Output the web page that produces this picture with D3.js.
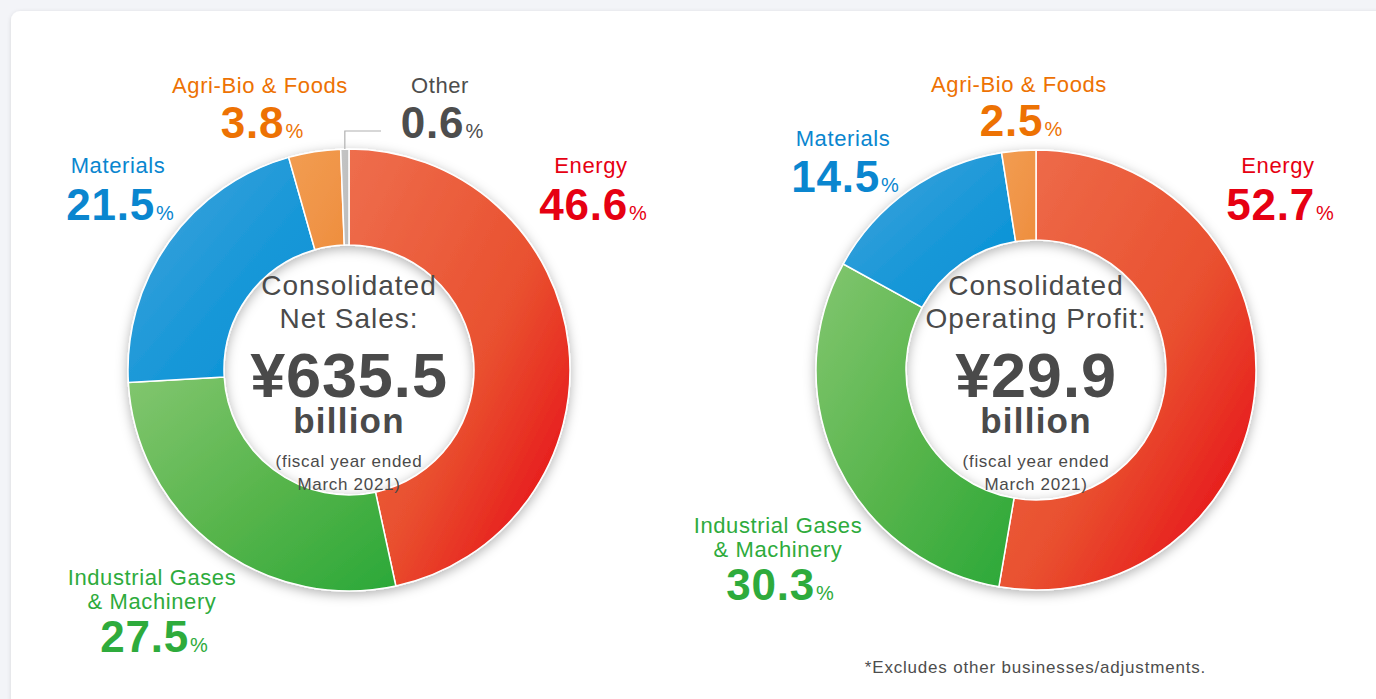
<!DOCTYPE html>
<html>
<head>
<meta charset="utf-8">
<script src="https://cdn.jsdelivr.net/npm/d3@7"></script>
<style>
  html, body { margin: 0; padding: 0; background: #f3f4f8; }
  svg { display: block; font-family: "Liberation Sans", Arial, Helvetica, sans-serif; }
</style>
</head>
<body>
<svg id="chart"></svg>
<script>
// data
var segments = ["Energy", "Industrial Gases & Machinery", "Materials", "Agri-Bio & Foods", "Other"];
var salesShare = [46.6, 27.5, 21.5, 3.8, 0.6];
var profitShare = [52.7, 30.3, 14.5, 2.5];
var salesTitle = ["Consolidated", "Net Sales:"];
var profitTitle = ["Consolidated", "Operating Profit:"];
var salesAmount = "¥635.5";
var profitAmount = "¥29.9";
var period = ["(fiscal year ended", "March 2021)"];
var footnote = "*Excludes other businesses/adjustments.";

// colours per segment: gradient light, mid, dark, text
var segLight = ["#ee6e4d", "#82c66f", "#45a4dc", "#f29d52", "#c4c4c4"];
var segMid = ["#e9502f", "#55b44a", "#1a98d8", "#f09548", "#c0c0c0"];
var segDark = ["#e60013", "#2aa838", "#0090d6", "#ee8e3e", "#bdbdbd"];
var segText = ["#e60012", "#2eab3c", "#0a86cf", "#ed7203", "#4d4d4d"];

var width = 1376, height = 699;
var svg = d3.select("#chart").attr("width", width).attr("height", height);
var defs = svg.append("defs");

var cardShadow = defs.append("filter").attr("id", "cardShadow")
  .attr("x", "-5%").attr("y", "-5%").attr("width", "110%").attr("height", "110%");
cardShadow.append("feDropShadow").attr("dx", 0).attr("dy", 1).attr("stdDeviation", 2)
  .attr("flood-color", "#000").attr("flood-opacity", 0.12);

var ringShadow = defs.append("filter").attr("id", "ringShadow")
  .attr("x", "-20%").attr("y", "-20%").attr("width", "140%").attr("height", "140%");
ringShadow.append("feDropShadow").attr("dx", 0).attr("dy", 3).attr("stdDeviation", 6)
  .attr("flood-color", "#000").attr("flood-opacity", 0.3);

segments.forEach(function (s, i) {
  var g = defs.append("linearGradient").attr("id", "grad" + i)
    .attr("x1", 0).attr("y1", 0).attr("x2", 1).attr("y2", 1);
  g.append("stop").attr("offset", "0%").attr("stop-color", segLight[i]);
  g.append("stop").attr("offset", "55%").attr("stop-color", segMid[i]);
  g.append("stop").attr("offset", "100%").attr("stop-color", segDark[i]);
});

// card
svg.append("rect")
  .attr("x", 11).attr("y", 11).attr("width", width + 20).attr("height", height + 20)
  .attr("rx", 9).attr("fill", "#fff").attr("filter", "url(#cardShadow)");

// layout of each donut and its labels (not data)
var charts = [
  {
    share: salesShare, title: salesTitle, amount: salesAmount,
    cx: 349, cy: 370, outer: 221, inner: 125,
    labels: [
      { x: 591, y: 173, lines: ["Energy"], num: 220 },
      { x: 152, y: 585, lines: ["Industrial Gases", "& Machinery"], num: 652 },
      { x: 118, y: 173, lines: ["Materials"], num: 220 },
      { x: 260, y: 93, lines: ["Agri-Bio & Foods"], num: 138 },
      { x: 440, y: 93, lines: ["Other"], num: 138 }
    ]
  },
  {
    share: profitShare, title: profitTitle, amount: profitAmount,
    cx: 1036, cy: 370, outer: 220, inner: 130,
    labels: [
      { x: 1278, y: 173, lines: ["Energy"], num: 220 },
      { x: 778, y: 533, lines: ["Industrial Gases", "& Machinery"], num: 600 },
      { x: 843, y: 146, lines: ["Materials"], num: 192 },
      { x: 1019, y: 92, lines: ["Agri-Bio & Foods"], num: 136 }
    ]
  }
];

var pie = d3.pie().sort(null).value(function (d) { return d; });

charts.forEach(function (c) {
  var arc = d3.arc().innerRadius(c.inner).outerRadius(c.outer);
  var g = svg.append("g").attr("transform", "translate(" + c.cx + "," + c.cy + ")");

  g.append("g").attr("filter", "url(#ringShadow)")
    .selectAll("path")
    .data(pie(c.share))
    .enter()
    .append("path")
    .attr("d", arc)
    .attr("fill", function (d, i) { return "url(#grad" + i + ")"; })
    .attr("stroke", "#fff")
    .attr("stroke-width", 1.5);

  // centre text
  var ct = g.append("g").attr("fill", "#4a4a4a").attr("text-anchor", "middle");
  ct.selectAll("text.title")
    .data(c.title)
    .enter()
    .append("text")
    .attr("class", "title")
    .attr("y", function (d, i) { return -75 + i * 33; })
    .attr("font-size", 28)
    .attr("letter-spacing", 1)
    .text(function (d) { return d; });
  ct.append("text").attr("y", 27).attr("font-size", 63).attr("font-weight", "bold")
    .attr("letter-spacing", 0.8)
    .text(c.amount);
  ct.append("text").attr("y", 63).attr("font-size", 35).attr("font-weight", "bold")
    .attr("letter-spacing", 1.2)
    .text("billion");
  ct.selectAll("text.period")
    .data(period)
    .enter()
    .append("text")
    .attr("class", "period")
    .attr("y", function (d, i) { return 97 + i * 23; })
    .attr("font-size", 17)
    .attr("letter-spacing", 0.7)
    .text(function (d) { return d; });

  // segment labels
  c.labels.forEach(function (l, i) {
    var col = segText[i];
    l.lines.forEach(function (t, k) {
      svg.append("text")
        .attr("x", l.x).attr("y", l.y + k * 24)
        .attr("text-anchor", "middle")
        .attr("font-size", 22)
        .attr("letter-spacing", 0.6)
        .attr("fill", col)
        .text(t);
    });
    var num = svg.append("text")
      .attr("x", l.x + 2).attr("y", l.num)
      .attr("text-anchor", "middle")
      .attr("fill", col);
    num.append("tspan").attr("font-size", 44).attr("font-weight", "bold")
      .attr("letter-spacing", 0.8)
      .text(d3.format(".1f")(c.share[i]));
    num.append("tspan").attr("font-size", 20).attr("dx", 1).text("%");
  });
});

// leader line for "Other"
var sales = charts[0];
var otherArc = pie(salesShare)[4];
var midA = (otherArc.startAngle + otherArc.endAngle) / 2;
var lx = sales.cx + Math.sin(midA) * sales.outer;
svg.append("polyline")
  .attr("points", [[lx, sales.cy - sales.outer], [lx, 131], [381, 131]].map(function (p) { return p.join(","); }).join(" "))
  .attr("fill", "none")
  .attr("stroke", "#b0b0b0")
  .attr("stroke-width", 1.2);

// footnote
svg.append("text")
  .attr("x", 1206).attr("y", 673)
  .attr("text-anchor", "end")
  .attr("font-size", 17)
  .attr("letter-spacing", 0.8)
  .attr("fill", "#4d4d4d")
  .text(footnote);
</script>
</body>
</html>
